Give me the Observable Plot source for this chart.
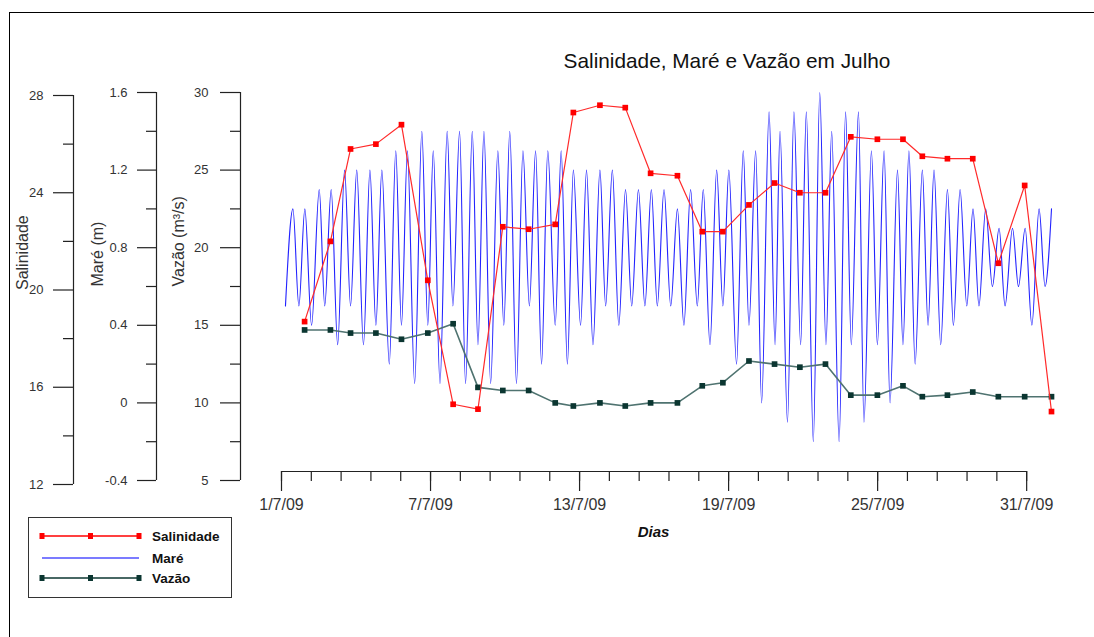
<!DOCTYPE html>
<html>
<head>
<meta charset="utf-8">
<script src="https://cdn.jsdelivr.net/npm/d3@7"></script>
<script src="https://cdn.jsdelivr.net/npm/@observablehq/plot@0.6"></script>
<style>
  body { margin: 0; background: #fff; font-family: "Liberation Sans", Arial, sans-serif; }
  #wrap { position: relative; width: 1094px; height: 637px; overflow: hidden; background: #fff; }
  #wrap svg.layer { position: absolute; left: 0; top: 0; overflow: visible; max-width: none; }
  #border { position: absolute; left: 9px; top: 12px; width: 1200px; height: 800px;
            border-top: 1.5px solid #000; border-left: 1.5px solid #000; }
  #title { position: absolute; left: 477px; width: 500px; top: 48px; text-align: center;
           font-size: 20.8px; line-height: 26px; color: #111; }
  #legend { position: absolute; left: 28px; top: 517px; width: 202px; height: 79px;
            border: 1.3px solid #333; background: #fff; }
  #legend svg { position: absolute; left: 0; top: 0; }
</style>
</head>
<body>
<div id="wrap">
  <div id="border"></div>
  <div id="title">Salinidade, Maré e Vazão em Julho</div>
  <div id="legend"></div>
</div>
<script>
// ---------- data (days of July 2009) ----------
const dias = [1.93, 2.97, 3.78, 4.80, 5.83, 6.89, 7.91, 8.91, 9.91, 10.95, 12.02, 12.75, 13.82, 14.84, 15.86, 16.94,
              17.94, 18.77, 19.82, 20.85, 21.87, 22.90, 23.92, 24.99, 26.02, 26.80, 27.81, 28.83, 29.86, 30.92, 32.00];
const salinidade = [18.7, 22.0, 25.8, 26.0, 26.8, 20.4, 15.3, 15.1, 22.6, 22.5, 22.7, 27.3, 27.6, 27.5, 24.8, 24.7,
                    22.4, 22.4, 23.5, 24.4, 24.0, 24.0, 26.3, 26.2, 26.2, 25.5, 25.4, 25.4, 21.1, 24.3, 15.0];
const vazao = [14.7, 14.7, 14.5, 14.5, 14.1, 14.5, 15.1, 11.0, 10.8, 10.8, 10.0, 9.8, 10.0, 9.8, 10.0, 10.0,
               11.1, 11.3, 12.7, 12.5, 12.3, 12.5, 10.5, 10.5, 11.1, 10.4, 10.5, 10.7, 10.4, 10.4, 10.4];

// tide: successive low / high water levels (m)
const mareDia = [1.16, 1.46, 1.70, 1.94, 2.21, 2.52, 2.74, 3.00, 3.26, 3.54, 3.78, 4.03, 4.30, 4.56, 4.80, 5.04,
  5.34, 5.60, 5.83, 6.07, 6.36, 6.65, 6.89, 7.11, 7.38, 7.67, 7.90, 8.17, 8.41, 8.68, 8.91, 9.15,
  9.42, 9.71, 9.95, 10.19, 10.46, 10.72, 10.98, 11.23, 11.47, 11.72, 12.02, 12.26, 12.51, 12.75, 13.04, 13.28,
  13.54, 13.82, 14.05, 14.32, 14.58, 14.85, 15.10, 15.37, 15.63, 15.89, 16.13, 16.40, 16.67, 16.94, 17.20, 17.47,
  17.74, 17.98, 18.25, 18.52, 18.77, 19.01, 19.32, 19.59, 19.82, 20.09, 20.33, 20.63, 20.87, 21.07, 21.37, 21.63,
  21.90, 22.13, 22.41, 22.67, 22.92, 23.15, 23.45, 23.71, 23.94, 24.23, 24.45, 24.75, 24.99, 25.26, 25.50, 25.80,
  26.02, 26.26, 26.51, 26.80, 27.03, 27.27, 27.54, 27.81, 28.05, 28.32, 28.59, 28.84, 29.08, 29.35, 29.62, 29.89,
  30.13, 30.43, 30.67, 30.94, 31.21, 31.50, 31.74, 32.00];
const mareAltura = [0.5, 1.0, 0.5, 1.0, 0.4, 1.1, 0.5, 1.1, 0.3, 1.2, 0.5, 1.2, 0.3, 1.2, 0.4, 1.2,
  0.2, 1.3, 0.4, 1.3, 0.1, 1.4, 0.4, 1.3, 0.1, 1.4, 0.5, 1.4, 0.1, 1.4, 0.3, 1.4,
  0.1, 1.3, 0.4, 1.4, 0.1, 1.3, 0.5, 1.3, 0.2, 1.3, 0.4, 1.3, 0.2, 1.2, 0.4, 1.2,
  0.3, 1.2, 0.5, 1.2, 0.4, 1.1, 0.5, 1.1, 0.5, 1.1, 0.5, 1.1, 0.5, 1.0, 0.4, 1.1,
  0.5, 1.1, 0.3, 1.2, 0.5, 1.2, 0.2, 1.3, 0.4, 1.3, 0.0, 1.5, 0.3, 1.4, -0.1, 1.5,
  0.3, 1.5, -0.2, 1.6, 0.3, 1.4, -0.2, 1.5, 0.3, 1.5, -0.1, 1.3, 0.3, 1.3, 0.0, 1.2,
  0.3, 1.3, 0.2, 1.2, 0.4, 1.2, 0.3, 1.1, 0.4, 1.1, 0.5, 1.0, 0.5, 1.0, 0.6, 0.9,
  0.5, 0.9, 0.6, 0.9, 0.4, 1.0, 0.6, 1.0];

// ---------- ticks ----------
const xTicks = [1, 7, 13, 19, 25, 31];
const xLabels = ["1/7/09", "7/7/09", "13/7/09", "19/7/09", "25/7/09", "31/7/09"];
const salTicks = [12, 16, 20, 24, 28];
const salLabels = ["12", "16", "20", "24", "28"];
const salMinor = [14, 18, 22, 26];
const mareTicks = [-0.4, 0, 0.4, 0.8, 1.2, 1.6];
const mareLabels = ["-0.4", "0", "0.4", "0.8", "1.2", "1.6"];
const mareMinor = [-0.2, 0.2, 0.6, 1.0, 1.4];
const vazTicks = [5, 10, 15, 20, 25, 30];
const vazLabels = ["5", "10", "15", "20", "25", "30"];
const vazMinor = [7.5, 12.5, 17.5, 22.5, 27.5];

// ---------- tables ----------
const salTable = dias.map((d, i) => ({dia: d, v: salinidade[i]}));
const vazTable = dias.map((d, i) => ({dia: d, v: vazao[i]}));
const mareTable = mareDia.map((d, i) => ({dia: d, v: mareAltura[i]}));

const W = 1094, H = 637;
const FONT = "'Liberation Sans', Arial, sans-serif";
const AX = "#222";
const base = {
  width: W, height: H, marginLeft: 281, marginRight: 43,
  x: {domain: [1, 32], axis: null},
  style: {background: "transparent", fontFamily: FONT, overflow: "visible"}
};
const lbl = (ticks, labels) => d => labels[ticks.indexOf(d)];

function yAxis(ticks, labels, minor, dx, tickSize, pad, title, titleDx) {
  return [
    Plot.ruleX([1], {dx, stroke: AX, strokeWidth: 1.2}),
    Plot.axisY(ticks, {anchor: "left", dx, tickSize, tickPadding: pad, stroke: AX, strokeWidth: 1.2,
      fill: "#333", fontSize: 13, tickFormat: lbl(ticks, labels), label: null}),
    Plot.axisY(minor, {anchor: "left", dx, tickSize: Math.round(tickSize / 2), stroke: AX, strokeWidth: 1.2,
      tickFormat: () => "", label: null}),
    Plot.text([title], {frameAnchor: "left", rotate: -90, dx: titleDx, fontSize: 16, fill: "#333"})
  ];
}

const wrap = document.getElementById("wrap");
function add(svg) { svg.classList.add("layer"); wrap.appendChild(svg); }

// X axis layer
add(Plot.plot({
  ...base, marginTop: 92, marginBottom: 166,
  x: {domain: [1, 32]},
  y: {domain: [0, 1], axis: null},
  marks: [
    Plot.ruleY([0], {x1: xTicks[0], x2: xTicks[xTicks.length - 1], stroke: AX, strokeWidth: 1.2}),
    Plot.axisX(d3.range(1, 31.01, 1.2), {anchor: "bottom", tickSize: 10, stroke: AX, strokeWidth: 1.2,
      tickFormat: () => "", label: null}),
    Plot.axisX(xTicks, {anchor: "bottom", tickSize: 20, tickPadding: 7, stroke: AX, strokeWidth: 1.2,
      fill: "#333", fontSize: 16, tickFormat: lbl(xTicks, xLabels), label: null}),
    Plot.text(["Dias"], {frameAnchor: "bottom", dx: -13, dy: 65, fontSize: 15, fontWeight: "bold",
      fontStyle: "italic", fill: "#111"})
  ]
}));

// Maré layer
add(Plot.plot({
  ...base, marginTop: 92, marginBottom: 157,
  y: {domain: [-0.4, 1.6]},
  marks: [
    Plot.line(mareTable, {x: "dia", y: "v", stroke: "#2222ff", strokeWidth: 1.1, curve: "monotone-x"}),
    ...yAxis(mareTicks, mareLabels, mareMinor, -125, 19, 10, "Maré (m)", -184)
  ]
}));

// Vazão layer
add(Plot.plot({
  ...base, marginTop: 92, marginBottom: 157,
  y: {domain: [5, 30]},
  marks: [
    Plot.line(vazTable, {x: "dia", y: "v", stroke: "#4f7370", strokeWidth: 1.6}),
    Plot.dot(vazTable, {x: "dia", y: "v", symbol: "square", r: 3.2, fill: "#0b3631", stroke: "none"}),
    ...yAxis(vazTicks, vazLabels, vazMinor, -41, 20, 12, "Vazão (m³/s)", -103)
  ]
}));

// Salinidade layer
add(Plot.plot({
  ...base, marginTop: 95, marginBottom: 153,
  y: {domain: [12, 28]},
  marks: [
    Plot.line(salTable, {x: "dia", y: "v", stroke: "#ff2a2a", strokeWidth: 1.2}),
    Plot.dot(salTable, {x: "dia", y: "v", symbol: "square", r: 3.2, fill: "#ff0000", stroke: "none"}),
    ...yAxis(salTicks, salLabels, salMinor, -208, 20, 10, "Salinidade", -259)
  ]
}));

// legend
const legendItems = [
  {name: "Salinidade", color: "#ff0000", width: 1.3, markers: true},
  {name: "Maré", color: "#7b7bff", width: 2, markers: false},
  {name: "Vazão", color: "#0b3631", width: 1.3, markers: true}
];
const rowsY = [18, 40, 60];
let s = `<svg width="202" height="79" font-family="${FONT}">`;
legendItems.forEach((it, i) => {
  const y = rowsY[i];
  s += `<line x1="13" x2="110" y1="${y}" y2="${y}" stroke="${it.color}" stroke-width="${it.width}"/>`;
  if (it.markers) [13, 61.5, 110].forEach(x => {
    s += `<rect x="${x - 2.5}" y="${y - 3}" width="5" height="6" fill="${it.color}"/>`;
  });
  s += `<text x="123" y="${y + 5}" font-size="13.5" font-weight="bold" fill="#111">${it.name}</text>`;
});
s += `</svg>`;
document.getElementById("legend").innerHTML = s;
</script>
</body>
</html>
